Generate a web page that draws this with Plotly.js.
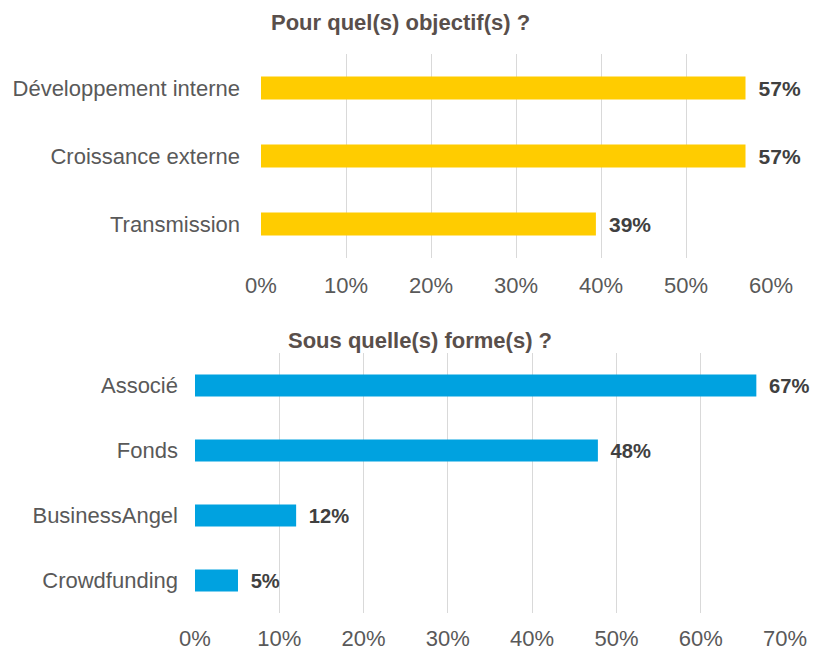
<!DOCTYPE html>
<html>
<head>
<meta charset="utf-8">
<script src="https://cdn.plot.ly/plotly-3.0.1.min.js"></script>
<style>html,body{margin:0;padding:0;background:#fff;}#chart{width:817px;height:651px;}</style>
</head>
<body>
<div id="chart"></div>
<script>
const objectifCategories = ["Développement interne", "Croissance externe", "Transmission"];
const objectifValues = [57, 57, 39.4];
const formeCategories = ["Associé", "Fonds", "BusinessAngel", "Crowdfunding"];
const formeValues = [66.6, 47.8, 12, 5.1];
const title1 = "Pour quel(s) objectif(s) ?";
const title2 = "Sous quelle(s) forme(s) ?";

const font = "Liberation Sans, Arial, sans-serif";
const labelFont = {family: font, size: 21, color: "#404040", weight: "bold"};
const data = [
  {
    type: "bar", orientation: "h",
    x: objectifValues, y: objectifCategories,
    xaxis: "x", yaxis: "y",
    marker: {color: "#FFCC00"},
    texttemplate: " \u2009%{x:.0f}%", textposition: "outside", cliponaxis: false,
    textfont: labelFont,
    hoverinfo: "none"
  },
  {
    type: "bar", orientation: "h",
    x: formeValues, y: formeCategories,
    xaxis: "x2", yaxis: "y2",
    marker: {color: "#00A2E0"},
    texttemplate: " \u2009%{x:.0f}%", textposition: "outside", cliponaxis: false,
    textfont: labelFont,
    hoverinfo: "none"
  }
];

const axisFont = {family: font, size: 22, color: "#595959"};
const layout = {
  width: 817, height: 651,
  margin: {l: 0, r: 0, t: 0, b: 0},
  paper_bgcolor: "#fff", plot_bgcolor: "#fff",
  showlegend: false,
  bargap: 0.66,
  font: {family: font},
  xaxis: {
    domain: [261/817, 771/817], anchor: "y",
    range: [0, 60], dtick: 10, ticksuffix: "%",
    showgrid: true, gridcolor: "#D9D9D9", gridwidth: 1,
    zeroline: false, showline: false, ticks: "",
    tickfont: axisFont, ticklabelstandoff: 12, fixedrange: true
  },
  yaxis: {
    domain: [1 - 258/651, 1 - 54/651], anchor: "x",
    type: "category", categoryorder: "array", categoryarray: objectifCategories,
    autorange: "reversed",
    showgrid: false, zeroline: false, showline: false, ticks: "",
    tickfont: axisFont, ticklabelstandoff: 20
  },
  xaxis2: {
    domain: [195/817, 785/817], anchor: "y2",
    range: [0, 70], dtick: 10, ticksuffix: "%",
    showgrid: true, gridcolor: "#D9D9D9", gridwidth: 1,
    zeroline: false, showline: false, ticks: "",
    tickfont: axisFont, ticklabelstandoff: 10
  },
  yaxis2: {
    domain: [1 - 613/651, 1 - 353/651], anchor: "x2",
    type: "category", categoryorder: "array", categoryarray: formeCategories,
    autorange: "reversed",
    showgrid: false, zeroline: false, showline: false, ticks: "",
    tickfont: axisFont, ticklabelstandoff: 16
  },
  annotations: [
    {text: "<b>" + title1 + "</b>", xref: "paper", yref: "paper", x: 400/817, y: 1 - 22/651,
     xanchor: "center", yanchor: "middle", showarrow: false,
     font: {family: font, size: 22, color: "#594F4B"}},
    {text: "<b>" + title2 + "</b>", xref: "paper", yref: "paper", x: 420/817, y: 1 - 340/651,
     xanchor: "center", yanchor: "middle", showarrow: false,
     font: {family: font, size: 22, color: "#594F4B"}}
  ]
};
Plotly.newPlot("chart", data, layout, {displayModeBar: false, staticPlot: true});
</script>
</body>
</html>
